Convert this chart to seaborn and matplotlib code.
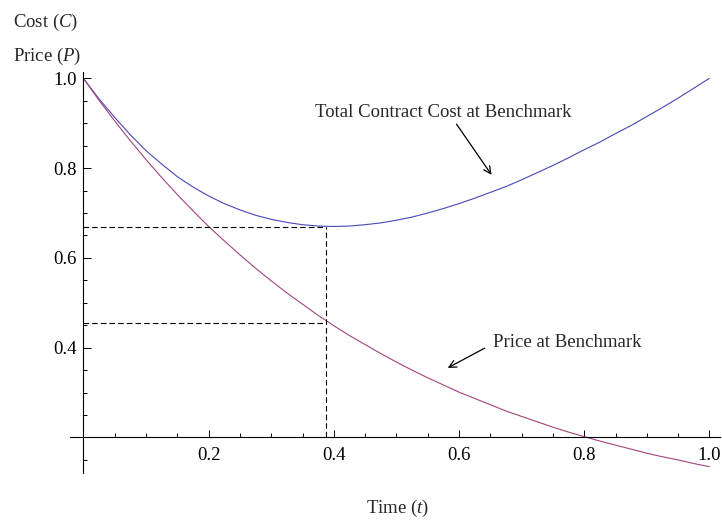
import numpy as np
import pandas as pd
import seaborn as sns
import matplotlib
matplotlib.use("Agg")
import matplotlib.pyplot as plt

# ---- data ----
t_vals = [0.000, 0.025, 0.050, 0.075, 0.100, 0.125, 0.150, 0.175, 0.200, 0.225,
          0.250, 0.275, 0.300, 0.325, 0.350, 0.375, 0.400, 0.425, 0.450, 0.475,
          0.500, 0.525, 0.550, 0.575, 0.600, 0.625, 0.650, 0.675, 0.700, 0.725,
          0.750, 0.775, 0.800, 0.825, 0.850, 0.875, 0.900, 0.925, 0.950, 0.975, 1.000]
price_vals = [1.000, 0.951, 0.905, 0.861, 0.819, 0.779, 0.741, 0.705, 0.670, 0.638,
              0.607, 0.577, 0.549, 0.522, 0.497, 0.472, 0.449, 0.427, 0.407, 0.387,
              0.368, 0.350, 0.333, 0.317, 0.301, 0.287, 0.273, 0.259, 0.247, 0.235,
              0.223, 0.212, 0.202, 0.192, 0.183, 0.174, 0.165, 0.157, 0.150, 0.142, 0.135]
cost_vals = [1.000, 0.954, 0.913, 0.874, 0.839, 0.809, 0.781, 0.758, 0.738, 0.721,
             0.707, 0.695, 0.686, 0.679, 0.674, 0.671, 0.670, 0.671, 0.674, 0.678,
             0.684, 0.691, 0.700, 0.710, 0.721, 0.733, 0.746, 0.759, 0.774, 0.790,
             0.806, 0.823, 0.841, 0.858, 0.877, 0.895, 0.915, 0.935, 0.956, 0.978, 1.000]
t_opt = 0.387
cost_opt = 0.669
price_opt = 0.456
x_major = [0.2, 0.4, 0.6, 0.8, 1.0]
x_minor = [0.05, 0.10, 0.15, 0.25, 0.30, 0.35, 0.45, 0.50, 0.55, 0.65, 0.70, 0.75, 0.85, 0.90, 0.95]
y_major = [0.4, 0.6, 0.8, 1.0]
y_minor = [0.15, 0.25, 0.30, 0.35, 0.45, 0.50, 0.55, 0.65, 0.70, 0.75, 0.85, 0.90, 0.95]
y_major_labels = ["0.4", "0.6", "0.8", "1.0"]
x_major_labels = ["0.2", "0.4", "0.6", "0.8", "1.0"]

sns.set_style("white")
plt.rcParams["font.family"] = ["Liberation Serif", "DejaVu Serif"]
plt.rcParams["mathtext.fontset"] = "custom"
plt.rcParams["mathtext.rm"] = "Liberation Serif"
plt.rcParams["mathtext.it"] = "Liberation Serif:italic"

fig = plt.figure(figsize=(7.22, 5.22), dpi=100)
ax = fig.add_axes([0.0965, 0.0931, 0.9008, 0.7697])

df = pd.DataFrame({
    "t": t_vals + t_vals,
    "value": cost_vals + price_vals,
    "series": ["Cost"] * len(t_vals) + ["Price"] * len(t_vals),
})
sns.lineplot(data=df, x="t", y="value", hue="series", estimator=None,
             palette={"Cost": "#4848b8", "Price": "#a3437f"},
             linewidth=0.8, legend=False, ax=ax)

dash = dict(color="black", linewidth=0.8, dashes=(5, 2.8))
ax.plot([0, t_opt], [cost_opt, cost_opt], **dash)
ax.plot([0, t_opt], [price_opt, price_opt], **dash)
ax.plot([t_opt, t_opt], [0.2, cost_opt], **dash)

ax.set_xlim(-0.022, 1.017)
ax.set_ylim(0.12, 1.015)

for s in ["top", "right"]:
    ax.spines[s].set_visible(False)
ax.spines["left"].set_position(("data", 0))
ax.spines["bottom"].set_position(("data", 0.2))
for s in ["left", "bottom"]:
    ax.spines[s].set_linewidth(0.8)
    ax.spines[s].set_color("black")

ax.set_xticks(x_major)
ax.set_xticklabels(x_major_labels)
ax.set_xticks(x_minor, minor=True)
ax.set_yticks(y_major)
ax.set_yticklabels(y_major_labels)
ax.set_yticks(y_minor, minor=True)
ax.tick_params(which="both", direction="in", bottom=True, left=True, colors="black", width=0.7)
ax.tick_params(which="major", length=5.4, labelsize=13.5)
ax.tick_params(axis="x", which="major", pad=7)
ax.tick_params(axis="y", which="major", pad=5)
ax.tick_params(which="minor", length=2.9)
ax.set_xlabel("")
ax.set_ylabel("")

ax.text(0.370, 0.9138, "Total Contract Cost at Benchmark", fontsize=13.5, ha="left", va="baseline")
ax.annotate("", xy=(0.652, 0.785), xytext=(0.596, 0.898),
            arrowprops=dict(arrowstyle="->", lw=0.9, color="black", mutation_scale=13, shrinkA=0, shrinkB=0))
ax.text(0.654, 0.4022, "Price at Benchmark", fontsize=13.5, ha="left", va="baseline")
ax.annotate("", xy=(0.582, 0.355), xytext=(0.641, 0.399),
            arrowprops=dict(arrowstyle="->", lw=0.9, color="black", mutation_scale=13, shrinkA=0, shrinkB=0))

fig.text(13 / 722, 1 - 26.7 / 522, "Cost ($C$)", fontsize=13.5, ha="left", va="baseline")
fig.text(13 / 722, 1 - 61 / 522, "Price ($P$)", fontsize=13.5, ha="left", va="baseline")
fig.text(398 / 722, 1 - 513 / 522, "Time ($t$)", fontsize=13.5, ha="center", va="baseline")

fig.savefig("out.png", dpi=100)
